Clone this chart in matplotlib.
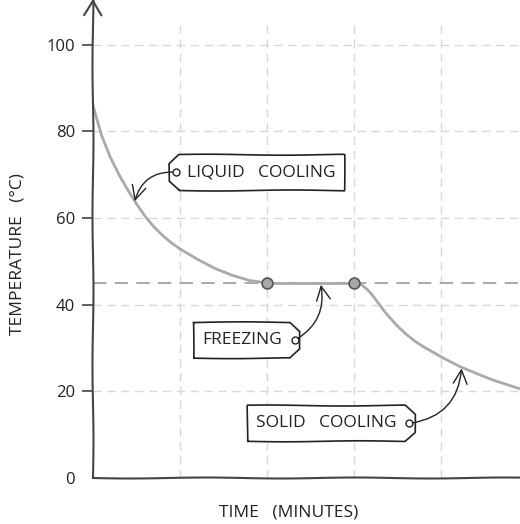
import matplotlib
matplotlib.use('Agg')
import matplotlib.pyplot as plt
from matplotlib.path import Path

plt.rcParams['font.family'] = ['Open Sans', 'DejaVu Sans']

# cooling curve (time in minutes, temperature in C)
liquid_time = [0.0, 0.1, 0.2, 0.3, 0.4, 0.5, 0.6, 0.7, 0.8, 0.9, 1.0, 1.2, 1.4, 1.6, 1.8, 2.0]
liquid_temp = [86, 79, 74, 70, 66.5, 63.3, 60.4, 58, 56, 54.3, 52.9, 50.5, 48.4, 46.8, 45.6, 45]
freeze_time = [2.0, 3.0]
freeze_temp = [45, 45]
solid_time = [3.0, 3.05, 3.1, 3.15, 3.2, 3.25, 3.3, 3.35, 3.4, 3.5, 3.6, 3.7, 3.8,
              4.0, 4.2, 4.4, 4.6, 4.8, 5.0]
solid_temp = [45, 44.9, 44.4, 43.6, 42.5, 41.2, 39.9, 38.5, 37.3, 35.1, 33.2, 31.6, 30.3,
              28, 25.9, 24.2, 22.6, 21.3, 20]
freezing_point = 45
y_ticks = [0, 20, 40, 60, 80, 100]
x_grid = [1, 2, 3, 4]

INK = '#222222'
SKETCH = (0.5, 150, 1)


def tag_style(point_side):
    # label tag: box with chamfered corners on one side
    def style(x0, y0, width, height, mutation_size):
        m = mutation_size
        py, pf, pp = 0.57 * m, 0.5 * m, 1.05 * m
        cx, cy = 0.57 * m, 0.52 * m
        top, bot = y0 + height + py, y0 - py
        if point_side == 'left':
            left, right = x0 - pp, x0 + width + pf
            verts = [(left + cx, bot), (right, bot), (right, top), (left + cx, top),
                     (left, top - cy), (left, bot + cy), (left + cx, bot)]
        else:
            left, right = x0 - pf, x0 + width + pp
            verts = [(left, bot), (right - cx, bot), (right, bot + cy), (right, top - cy),
                     (right - cx, top), (left, top), (left, bot)]
        codes = [Path.MOVETO] + [Path.LINETO] * 5 + [Path.CLOSEPOLY]
        return Path(verts, codes)
    return style


fig = plt.figure(figsize=(5.2, 5.24), dpi=100)
ax = fig.add_axes([0.1788, 0.0878, 0.8212, 0.868])

ax.set_xlim(0, 4.91)
ax.set_ylim(0, 105)

for gx in x_grid:
    ax.axvline(gx, color='#d8d8d8', lw=1, ls=(0, (6, 4)), zorder=0)
for gy in y_ticks[1:]:
    ax.axhline(gy, color='#d8d8d8', lw=1, ls=(0, (6, 4)), zorder=0)
ax.axhline(freezing_point, color='#999999', lw=1.2, ls=(0, (8, 5)), zorder=1)

curve_kw = dict(color='#aaaaaa', lw=2, solid_capstyle='round',
                solid_joinstyle='round', zorder=2)
ax.plot(liquid_time, liquid_temp, **curve_kw)
ax.plot(freeze_time, freeze_temp, **curve_kw)
ax.plot(solid_time, solid_temp, **curve_kw)
ax.plot(freeze_time, freeze_temp, 'o', ms=7.8, mfc='#a8a8a8', mec='#555555',
        mew=1.2, zorder=4)

# axes
for s in ['top', 'right', 'left']:
    ax.spines[s].set_visible(False)
ax.spines['bottom'].set_color('#444444')
ax.spines['bottom'].set_linewidth(1.5)
ax.spines['bottom'].set_sketch_params(*SKETCH)
yarrow = ax.annotate('', xy=(0, 1.055), xycoords='axes fraction', xytext=(0, 0),
                     arrowprops=dict(arrowstyle='->,head_length=0.54,head_width=0.32',
                                     mutation_scale=20, color='#444444', lw=1.5,
                                     shrinkA=0, shrinkB=0),
                     annotation_clip=False)
yarrow.arrow_patch.set_sketch_params(*SKETCH)

ax.set_xticks([])
ax.set_yticks(y_ticks)
ax.set_yticklabels([str(v) for v in y_ticks], fontsize=12, color=INK)
ax.tick_params(axis='y', length=8, width=1.2, color='#444444', pad=5)
ax.yaxis.get_major_ticks()[0].tick1line.set_visible(False)

ax.set_ylabel('TEMPERATURE   (°C)', fontsize=12.5, color=INK)
ax.yaxis.set_label_coords(-0.159, 0.493)
ax.set_xlabel('TIME   (MINUTES)', fontsize=12.5, color=INK)
ax.xaxis.set_label_coords(0.457, -0.059)

# labels with curved arrows
notes = [
    ('LIQUID   COOLING', (1.937, 70.5), 'left', (0.954, 70.6), (0.48, 63.9), 0.4),
    ('FREEZING', (1.713, 31.8), 'right', (2.32, 31.8), (2.62, 44.6), 0.35),
    ('SOLID   COOLING', (2.684, 12.6), 'right', (3.632, 12.6), (4.238, 25.3), 0.4),
]
for text, pos, side, hole, tip, rad in notes:
    t = ax.text(pos[0], pos[1], text, fontsize=12.5, color=INK, ha='center',
                va='center', zorder=5,
                bbox=dict(boxstyle=tag_style(side), fc='white', ec=INK, lw=1.2))
    t.get_bbox_patch().set_sketch_params(*SKETCH)
    ax.plot(hole[0], hole[1], 'o', ms=5, mfc='white', mec=INK, mew=1, zorder=6)
    ax.annotate('', xy=tip, xytext=hole,
                arrowprops=dict(arrowstyle='->,head_length=0.5,head_width=0.25',
                                mutation_scale=20, color=INK, lw=1,
                                connectionstyle=f'arc3,rad={rad}',
                                shrinkA=2.5, shrinkB=0),
                zorder=6)

fig.savefig('out.png', dpi=100)
